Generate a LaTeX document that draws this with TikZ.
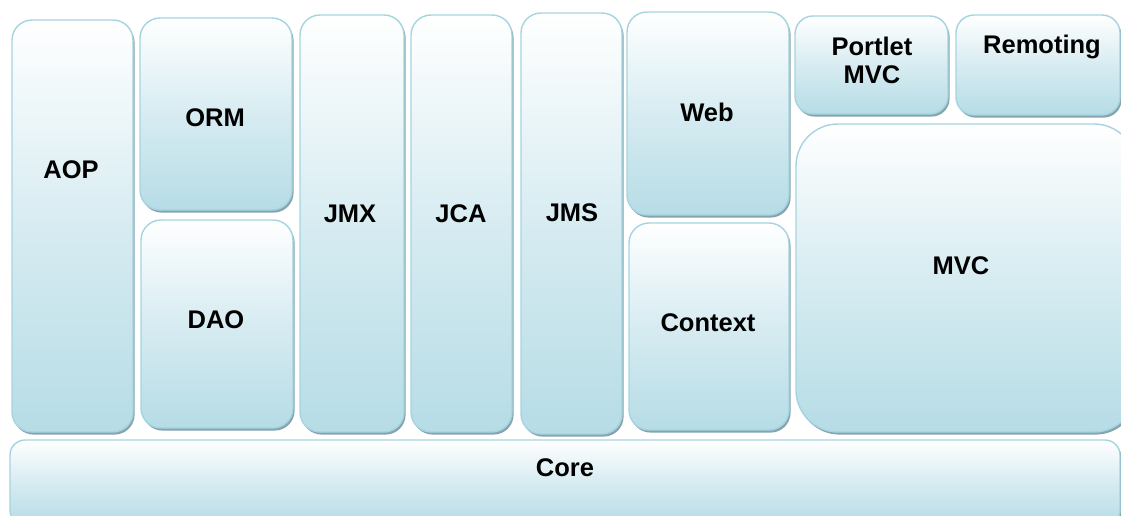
\documentclass[tikz,border=0pt]{standalone}
\usepackage{fontspec}
\setmainfont{Liberation Sans}
\usetikzlibrary{shadows}
\definecolor{modfill}{RGB}{182,220,230}
\definecolor{modedge}{RGB}{165,212,224}
\definecolor{modshade}{RGB}{120,155,165}
\tikzset{
  module/.style={rectangle, rounded corners=#1, draw=modedge, line width=1.4pt,
    top color=white, bottom color=modfill, middle color=modfill!55,
    anchor=north west, inner sep=0pt, outer sep=0pt,
    drop shadow={shadow xshift=1.6pt, shadow yshift=-2.6pt, fill=modshade, opacity=0.9}},
  module/.default=20pt,
  lbl/.style={font=\bfseries\fontsize{25.5}{28}\selectfont, align=center, inner sep=0pt}
}
% box of given corner (x,y) and size (w,h), in pixel units
\newcommand{\modbox}[6][20pt]{%
  \node[module=#1, minimum width=#5pt, minimum height=#6pt] (#2) at (#3,#4) {};}
\begin{document}
\begin{tikzpicture}[x=1pt,y=-1pt]
\useasboundingbox (0,0) rectangle (1121,515);
\fill[white] (0,0) rectangle (1121,515);
\clip (0,0) rectangle (1121,515);

\modbox{aop}{12}{20}{121}{412}
\modbox{orm}{140}{18}{152}{192}
\modbox{dao}{141}{220}{152}{208}
\modbox{jmx}{300}{15}{104}{417}
\modbox{jca}{411}{15}{101}{417}
\modbox{jms}{521}{13}{101}{421}
\modbox{web}{627}{12}{162}{203}
\modbox{ctx}{629}{223}{160}{207}
\modbox[18pt]{pmvc}{795}{16}{153}{98}
\modbox[18pt]{remo}{956}{15}{164}{100}
\modbox[42pt]{mvc}{796}{124}{340}{308}
\modbox[15pt]{core}{10}{440}{1110}{85}

\node[lbl] (aopl)  at (71,170)  {AOP};
\node[lbl] (orml)  at (215,118) {ORM};
\node[lbl] (daol)  at (216,320) {DAO};
\node[lbl] (jmxl)  at (350,214) {JMX};
\node[lbl] (jcal)  at (461,214) {JCA};
\node[lbl] (jmsl)  at (572,213) {JMS};
\node[lbl] (webl)  at (707,112) {Web};
\node[lbl] (ctxl)  at (708,323) {Context};
\node[lbl] (pmvcl) at (872,60)  {Portlet\\MVC};
\node[lbl] (remol) at (1042,47) {Remoting};
\node[lbl] (mvcl)  at (961,266) {MVC};
\node[lbl] (corel) at (565,468) {Core};
\end{tikzpicture}
\end{document}
